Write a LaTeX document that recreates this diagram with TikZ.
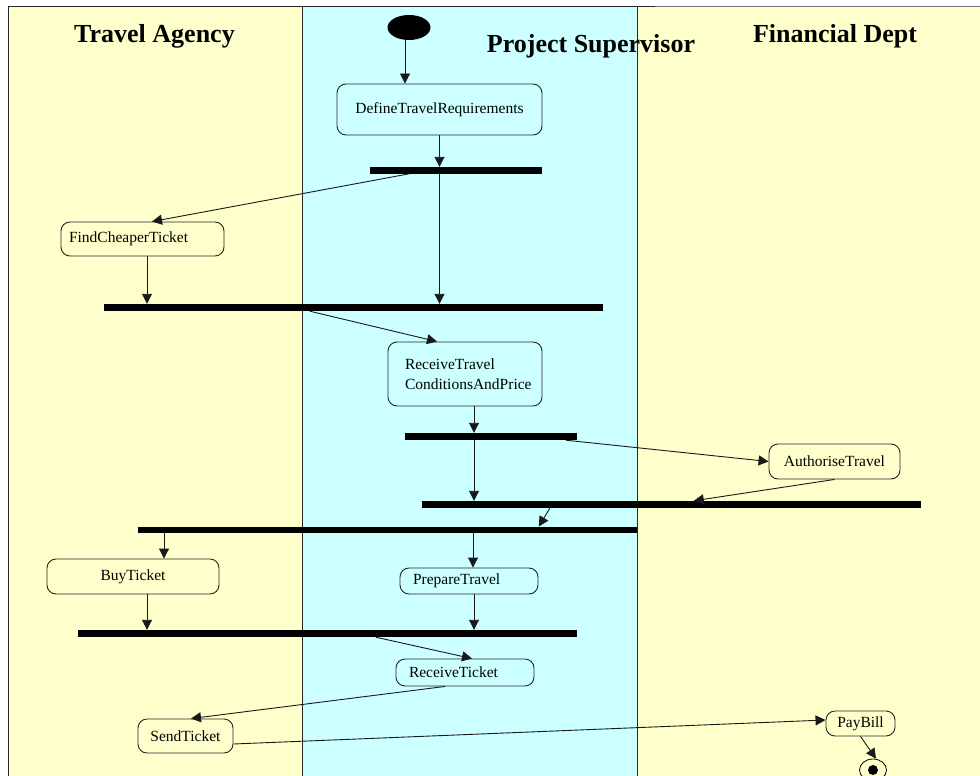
\documentclass[tikz,border=0pt]{standalone}
\usepackage{fontspec}
\setmainfont{Liberation Serif}
\usetikzlibrary{arrows.meta,shapes.geometric}
\definecolor{laneyellow}{RGB}{255,255,204}
\definecolor{lanecyan}{RGB}{204,255,255}

\begin{document}
\begin{tikzpicture}[x=1pt,y=-1pt,
	act/.style={draw=black!85, line width=0.9pt, rounded corners=9pt, inner sep=0pt, font=\fontsize{15.5}{20}\selectfont},
	bar/.style={fill=black, inner sep=0pt, minimum height=6.5pt},
	flow/.style={-{Triangle[length=10pt,width=10pt]}, black!90, line width=0.9pt},
	lanetitle/.style={font=\fontsize{26}{28}\selectfont\bfseries, anchor=base}]

	\useasboundingbox (0,0) rectangle (980,776);
	\clip (0,0) rectangle (980,776);

	% Swimlanes
	\fill[laneyellow] (8,6) rectangle (302,776);
	\fill[lanecyan] (302,6) rectangle (637,776);
	\fill[laneyellow] (637,6) rectangle (980,776);
	\draw[black!55] (8,6) -- (980,6);
	\draw[black!85, line width=0.9pt] (8,776) -- (8,6) -- (655,6);
	\draw[black!85, line width=0.9pt] (302,6) -- (302,776);
	\draw[black!85, line width=0.9pt] (637,6) -- (637,776);
	\node[lanetitle] (agency) at (154.5,43) {Travel Agency};
	\node[lanetitle] (supervisor) at (591,53) {Project Supervisor};
	\node[lanetitle] (finance) at (835,43) {Financial Dept};

	% Start and end
	\node[fill=black, ellipse, minimum width=43pt, minimum height=25pt, inner sep=0pt] (init) at (409,27.5) {};
	\node[draw=black, ellipse, line width=0.8pt, minimum width=27pt, minimum height=22pt, inner sep=0pt] (fin) at (873,770) {};
	\node[fill=black, circle, minimum size=10pt, inner sep=0pt] (findot) at (fin.center) {};

	% Activities
	\node[act, minimum width=205pt, minimum height=51pt] (dtr) at (439.5,109.5) {DefineTravelRequirements};
	\node[act, text width=147pt, inner xsep=8pt, minimum height=34pt, align=left] (fct) at (142.5,239) {FindCheaperTicket};
	\node[act, text width=120pt, inner xsep=17pt, minimum height=64pt, align=left] (rtcp) at (465,374) {ReceiveTravel\\ConditionsAndPrice};
	\node[act, minimum width=131pt, minimum height=35pt] (auth) at (834.5,461.5) {AuthoriseTravel};
	\node[act, minimum width=172pt, minimum height=35pt] (buy) at (133,576.5) {BuyTicket};
	\node[act, text width=112pt, inner xsep=13pt, minimum height=26pt, align=left] (prep) at (469,581) {PrepareTravel};
	\node[act, text width=112pt, inner xsep=13pt, minimum height=27pt, align=left] (rtk) at (465,672.5) {ReceiveTicket};
	\node[act, minimum width=95pt, minimum height=34pt] (send) at (185.5,736) {SendTicket};
	\node[act, minimum width=69pt, minimum height=25pt] (pay) at (860.5,723.5) {PayBill};

	% Fork and join bars
	\node[bar, minimum width=172pt] (bar1) at (456,170.25) {};
	\node[bar, minimum width=499pt, minimum height=7pt] (bar2) at (353.5,307.5) {};
	\node[bar, minimum width=172pt, minimum height=7pt] (bar3) at (491,436.5) {};
	\node[bar, minimum width=499pt, minimum height=7pt] (bar4) at (671.5,504.5) {};
	\node[bar, minimum width=499pt] (bar5) at (387.5,530) {};
	\node[bar, minimum width=499pt, minimum height=7pt] (bar6) at (327.5,633.5) {};

	% Transitions
	\draw[flow] ([xshift=-4pt]init.south) -- ([xshift=-4pt]init.south |- dtr.north);
	\draw[flow] (dtr.south) -- (dtr.south |- bar1.north);
	\draw[flow] ([xshift=40pt]bar1.south west) -- ([xshift=9.5pt]fct.north);
	\draw[flow] (dtr.south |- bar1.south) -- (dtr.south |- bar2.north);
	\draw[flow] ([xshift=4.5pt]fct.south) -- ([xshift=4.5pt]fct.south |- bar2.north);
	\draw[flow] ([xshift=206pt]bar2.south west) -- ([xshift=-28pt]rtcp.north);
	\draw[flow] ([xshift=9pt]rtcp.south) -- ([xshift=9pt]rtcp.south |- bar3.north);
	\draw[flow] ([xshift=161pt]bar3.south west) -- (auth.west);
	\draw[flow] ([xshift=9pt]rtcp.south |- bar3.south) -- ([xshift=9pt]rtcp.south |- bar4.north);
	\draw[flow] (auth.south) -- ([xshift=272pt]bar4.north west);
	\draw[flow] ([xshift=128pt]bar4.south west) -- ([xshift=401pt]bar5.north west);
	\draw[flow] ([xshift=31pt]buy.north |- bar5.south) -- ([xshift=31pt]buy.north);
	\draw[flow] ([xshift=4pt]prep.north |- bar5.south) -- ([xshift=4pt]prep.north);
	\draw[flow] ([xshift=14pt]buy.south) -- ([xshift=14pt]buy.south |- bar6.north);
	\draw[flow] ([xshift=5pt]prep.south) -- ([xshift=5pt]prep.south |- bar6.north);
	\draw[flow] ([xshift=298pt]bar6.south west) -- ([xshift=7pt]rtk.north);
	\draw[flow] ([xshift=-20pt]rtk.south) -- ([xshift=5.5pt]send.north);
	\draw[flow] ([yshift=-8pt]send.east) -- ([yshift=3.5pt]pay.west);
	\draw[flow] (pay.south) -- ([xshift=3pt]fin.north);
\end{tikzpicture}
\end{document}
